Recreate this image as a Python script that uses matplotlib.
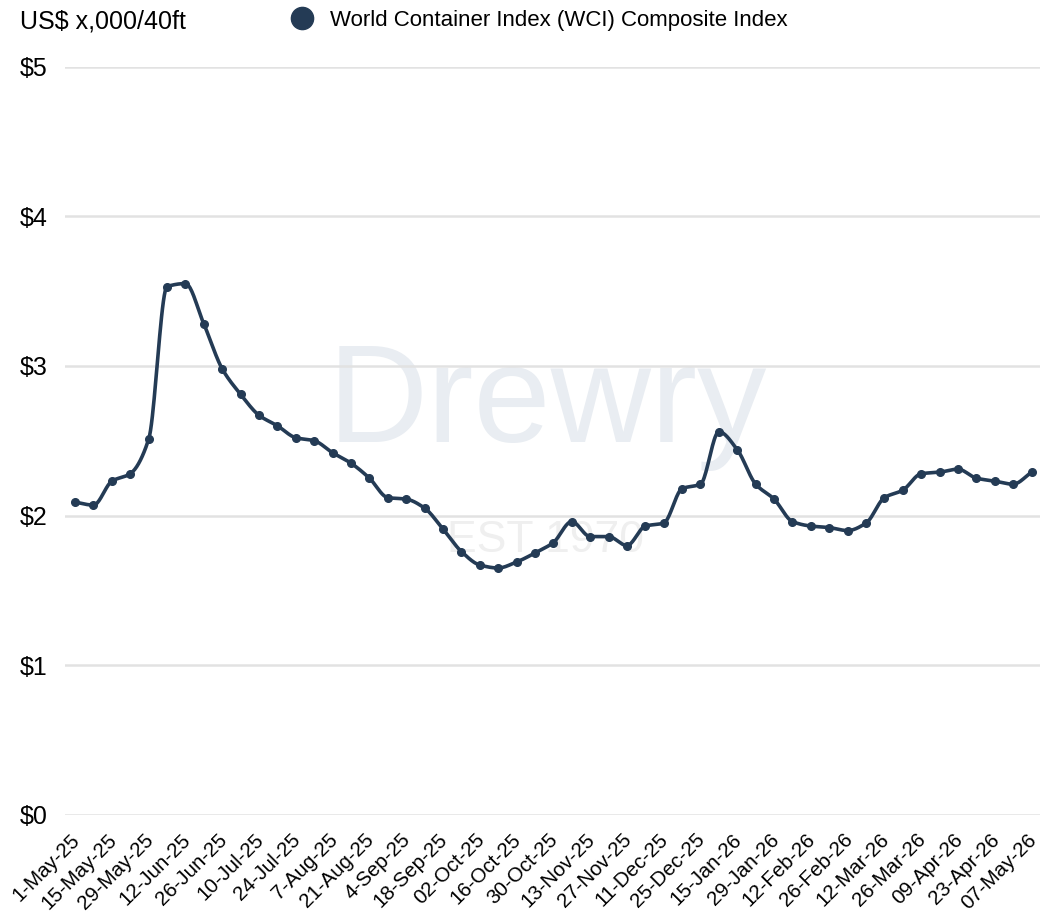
import matplotlib
matplotlib.use("Agg")
import matplotlib.pyplot as plt
import numpy as np
from matplotlib.lines import Line2D
from matplotlib.transforms import ScaledTranslation

# weekly WCI composite, US$ thousand per 40ft (1-Jan-26 week not published)
wci = [2.09, 2.07, 2.23, 2.28, 2.51, 3.53, 3.55, 3.28, 2.98, 2.81,
       2.67, 2.60, 2.52, 2.50, 2.42, 2.35, 2.25, 2.12, 2.11, 2.05,
       1.91, 1.76, 1.67, 1.65, 1.69, 1.75, 1.82, 1.96, 1.86, 1.86,
       1.80, 1.93, 1.95, 2.18, 2.21, 2.56, 2.44, 2.21, 2.11, 1.96,
       1.93, 1.92, 1.90, 1.95, 2.12, 2.17, 2.28, 2.29, 2.31, 2.25,
       2.23, 2.21, 2.29]
tick_labels = ["1-May-25", "15-May-25", "29-May-25", "12-Jun-25", "26-Jun-25",
               "10-Jul-25", "24-Jul-25", "7-Aug-25", "21-Aug-25", "4-Sep-25",
               "18-Sep-25", "02-Oct-25", "16-Oct-25", "30-Oct-25", "13-Nov-25",
               "27-Nov-25", "11-Dec-25", "25-Dec-25", "15-Jan-26", "29-Jan-26",
               "12-Feb-26", "26-Feb-26", "12-Mar-26", "26-Mar-26", "09-Apr-26",
               "23-Apr-26", "07-May-26"]
y_ticks = [0, 1, 2, 3, 4, 5]

NAVY = "#243b55"


def monotone(x, y, n=20):
    # Fritsch-Carlson monotone cubic, only used to draw the smooth line
    x = np.asarray(x, float)
    y = np.asarray(y, float)
    h = np.diff(x)
    d = np.diff(y) / h
    m = np.zeros_like(y)
    m[0], m[-1] = d[0], d[-1]
    for k in range(1, len(y) - 1):
        if d[k - 1] * d[k] > 0:
            w1 = 2 * h[k] + h[k - 1]
            w2 = h[k] + 2 * h[k - 1]
            m[k] = (w1 + w2) / (w1 / d[k - 1] + w2 / d[k])
    xs, ys = [], []
    for k in range(len(h)):
        t = np.linspace(0, 1, n, endpoint=False)
        h00 = 2 * t**3 - 3 * t**2 + 1
        h10 = t**3 - 2 * t**2 + t
        h01 = -2 * t**3 + 3 * t**2
        h11 = t**3 - t**2
        xs.append(x[k] + t * h[k])
        ys.append(h00 * y[k] + h10 * h[k] * m[k] + h01 * y[k + 1] + h11 * h[k] * m[k + 1])
    xs.append([x[-1]])
    ys.append([y[-1]])
    return np.concatenate(xs), np.concatenate(ys)


plt.rcParams['font.family'] = ['Liberation Sans', 'DejaVu Sans']

fig = plt.figure(figsize=(10.43, 9.24), dpi=100)
ax = fig.add_axes([0.0623, 0.118, 0.9347, 0.810])

x = np.arange(len(wci))
sx, sy = monotone(x, wci)
ax.plot(sx, sy, color=NAVY, lw=2.6, zorder=3, solid_capstyle='round')
ax.plot(x, wci, 'o', color=NAVY, ms=5.5, zorder=4)

# faint watermark
ax.text(25.65, 2.49, "Drewry", ha='center', va='baseline',
        fontsize=100, color='#e9edf2', zorder=0)
ax.text(25.6, 1.756, "EST 1970", ha='center', va='baseline',
        fontsize=32, color='#efefef', zorder=0)

ax.set_xlim(-0.55, 52.45)
ax.set_ylim(0, 5)
ax.set_yticks(y_ticks)
ax.set_yticklabels(["$%d" % v for v in y_ticks], fontsize=18, ha='left')
ax.tick_params(axis='y', length=0, pad=32.5)
ax.set_xticks(x[::2])
ax.set_xticklabels(tick_labels, rotation=45, ha='right', va='top',
                   rotation_mode='anchor', fontsize=14.8)
ax.tick_params(axis='x', length=0, pad=11)
shift = ScaledTranslation(-5 / 100, 0, fig.dpi_scale_trans)
for lab in ax.get_xticklabels():
    lab.set_transform(lab.get_transform() + shift)
ax.grid(axis='y', color='#e2e2e2', lw=1.8)
ax.set_axisbelow(True)
for s in ax.spines.values():
    s.set_visible(False)

fig.text(0.019, 0.977, "US$ x,000/40ft", fontsize=18, va='center')
handle = Line2D([], [], linestyle='none', marker='o', markersize=16, color=NAVY)
fig.legend([handle], ["World Container Index (WCI) Composite Index"],
           loc='center left', bbox_to_anchor=(0.268, 0.978), frameon=False,
           fontsize=16, handletextpad=0.25, borderaxespad=0, borderpad=0)

fig.savefig("out.png", dpi=100)
